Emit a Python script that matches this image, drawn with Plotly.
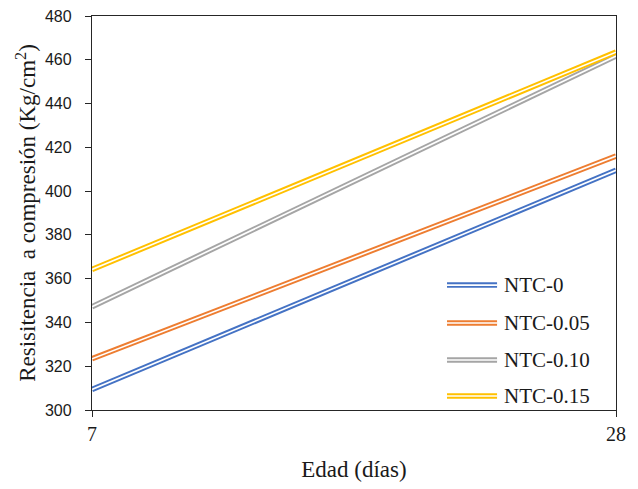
import plotly.graph_objects as go

ages = [7, 28]
series_names = ["NTC-0", "NTC-0.05", "NTC-0.10", "NTC-0.15"]
ntc_0 = [309.4, 409.5]
ntc_005 = [323.4, 416.0]
ntc_010 = [347.2, 461.7]
ntc_015 = [364.2, 463.5]
series_values = [ntc_0, ntc_005, ntc_010, ntc_015]
colors = ["#4472C4", "#ED7D31", "#A5A5A5", "#FFC000"]
y_ticks = [300, 320, 340, 360, 380, 400, 420, 440, 460, 480]

fig = go.Figure()
for name, vals, col in zip(series_names, series_values, colors):
    fig.add_trace(go.Scatter(x=ages, y=vals, mode="lines", name=name,
                             line=dict(color=col, width=5.5), showlegend=False,
                             hoverinfo="skip"))
    fig.add_trace(go.Scatter(x=ages, y=vals, mode="lines", name=name,
                             line=dict(color="white", width=1.6), showlegend=False,
                             hoverinfo="skip"))

# manual legend with double-line samples
leg_y = [0.317, 0.221, 0.127, 0.0355]
for name, col, ly in zip(series_names, colors, leg_y):
    fig.add_shape(type="line", xref="paper", yref="paper", x0=0.6775, x1=0.773,
                  y0=ly, y1=ly, line=dict(color=col, width=5.5))
    fig.add_shape(type="line", xref="paper", yref="paper", x0=0.6775, x1=0.773,
                  y0=ly, y1=ly, line=dict(color="white", width=1.6))
    fig.add_annotation(xref="paper", yref="paper", x=0.782, y=ly, text=name,
                       showarrow=False, xanchor="left", yanchor="middle",
                       font=dict(family="Liberation Serif", size=21, color="#1a1a1a"))

axis_col = "#262626"
fig.update_layout(
    width=638, height=489,
    margin=dict(l=92, r=22, t=16, b=79),
    paper_bgcolor="white", plot_bgcolor="white",
    showlegend=False,
    xaxis=dict(range=[7, 28], tickvals=ages, ticktext=[str(a) for a in ages],
               automargin=False,
               showgrid=False, zeroline=False, showline=True, linecolor=axis_col,
               linewidth=1.3, mirror=True, ticks="outside", ticklen=6,
               tickcolor=axis_col,
               tickfont=dict(family="Liberation Serif", size=20, color="#1a1a1a"),
               title=dict(text="Edad (días)", standoff=16,
                          font=dict(family="Liberation Serif", size=23, color="#1a1a1a"))),
    yaxis=dict(range=[300, 480], tickvals=y_ticks,
               automargin=False, ticklabelstandoff=10,
               showgrid=False, zeroline=False, showline=True, linecolor=axis_col,
               linewidth=1.3, mirror=True, ticks="outside", ticklen=6,
               tickcolor=axis_col,
               tickfont=dict(family="Liberation Sans", size=16, color="#1a1a1a"),
               title=dict(text="Resisitencia  a compresión (Kg/cm<sup>2</sup>)", standoff=2,
                          font=dict(family="Liberation Serif", size=23, color="#1a1a1a"))),
)

fig.write_html("out.html", config={"displayModeBar": False},
               post_script="document.body.style.margin='0';document.body.style.overflow='hidden';")
